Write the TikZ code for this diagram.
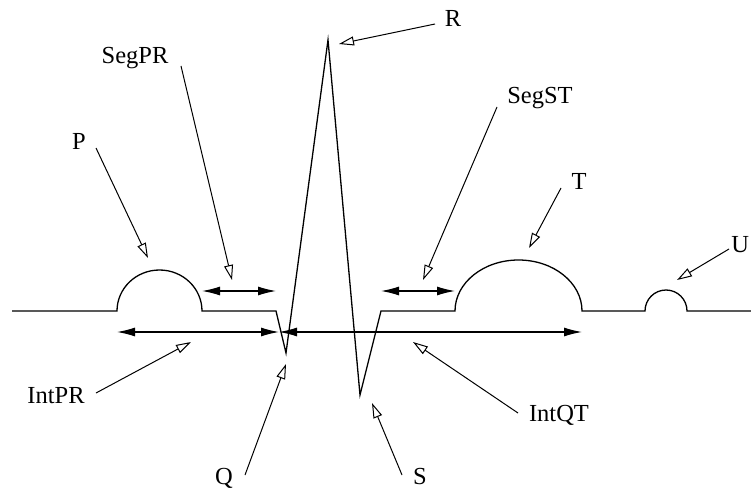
\documentclass[tikz,border=0pt]{standalone}
\usepackage{fontspec}
\setmainfont{Liberation Serif}
\usetikzlibrary{arrows.meta}

\tikzset{
  wave/.style={line width=1.3pt},
  span/.style={line width=1.2pt,{Latex[length=18pt,width=9pt]}-{Latex[length=18pt,width=9pt]}},
  pointer/.style={line width=1pt,-{Triangle[open,length=15pt,width=9pt,line width=1pt]}},
  lbl/.style={inner sep=0.75pt,font=\fontsize{24.5}{28}\selectfont}
}

\begin{document}
\begin{tikzpicture}[x=1pt,y=1pt,yscale=-1,xscale=1]
\useasboundingbox (0,0) rectangle (751,489);

% ECG trace
\draw[wave] (12,311) -- (117,311) arc[start angle=180,end angle=360,x radius=42.5,y radius=41]
  -- (276,311) -- (286,353) -- (328,40) -- (360,395) -- (381,311) -- (455,311)
  arc[start angle=180,end angle=360,x radius=63.5,y radius=51]
  -- (645,311) arc[start angle=180,end angle=360,radius=21] -- (751,311);

% Interval and segment spans
\coordinate (SegPRa) at (202,291);
\coordinate (SegPRb) at (276,291);
\coordinate (SegSTa) at (381,291);
\coordinate (SegSTb) at (455,291);
\coordinate (IntPRa) at (117,332);
\coordinate (IntPRb) at (279,332);
\coordinate (IntQTa) at (279,332);
\coordinate (IntQTb) at (582,332);
\draw[span] (SegPRa) -- (SegPRb);
\draw[span] (SegSTa) -- (SegSTb);
\draw[span] (IntPRa) -- (IntPRb);
\draw[span] (IntQTa) -- (IntQTb);

% Text Node
\node[lbl] (P) at (79,141) {P};
\node[lbl] (SegPR) at (135,58) {SegPR};
\node[lbl] (R) at (453,18) {R};
\node[lbl] (SegST) at (540,98) {SegST};
\node[lbl] (T) at (579,181) {T};
\node[lbl,anchor=east] (U) at (750,245) {U};
\node[lbl] (IntPR) at (56,396) {IntPR};
\node[lbl] (Q) at (224,478) {Q};
\node[lbl] (S) at (420,477) {S};
\node[lbl] (IntQT) at (559,415) {IntQT};

% Pointers
\coordinate (Pa) at (96,148);      \coordinate (Pb) at (148,258);
\coordinate (SegPRc) at (181,66);  \coordinate (SegPRd) at (232,280);
\coordinate (Ra) at (435,24);      \coordinate (Rb) at (339,44);
\coordinate (SegSTc) at (497,107); \coordinate (SegSTd) at (423,280);
\coordinate (Ta) at (561,188);     \coordinate (Tb) at (529,248);
\coordinate (Ua) at (729,249);     \coordinate (Ub) at (677,280);
\coordinate (IntPRc) at (96,393);  \coordinate (IntPRd) at (191,342);
\coordinate (Qa) at (245,475);     \coordinate (Qb) at (286,364);
\coordinate (Sa) at (402,475);     \coordinate (Sb) at (372,403);
\coordinate (IntQTc) at (518,413); \coordinate (IntQTd) at (413,342);
\draw[pointer] (Pa) -- (Pb);
\draw[pointer] (SegPRc) -- (SegPRd);
\draw[pointer] (Ra) -- (Rb);
\draw[pointer] (SegSTc) -- (SegSTd);
\draw[pointer] (Ta) -- (Tb);
\draw[pointer] (Ua) -- (Ub);
\draw[pointer] (IntPRc) -- (IntPRd);
\draw[pointer] (Qa) -- (Qb);
\draw[pointer] (Sa) -- (Sb);
\draw[pointer] (IntQTc) -- (IntQTd);

\end{tikzpicture}
\end{document}
